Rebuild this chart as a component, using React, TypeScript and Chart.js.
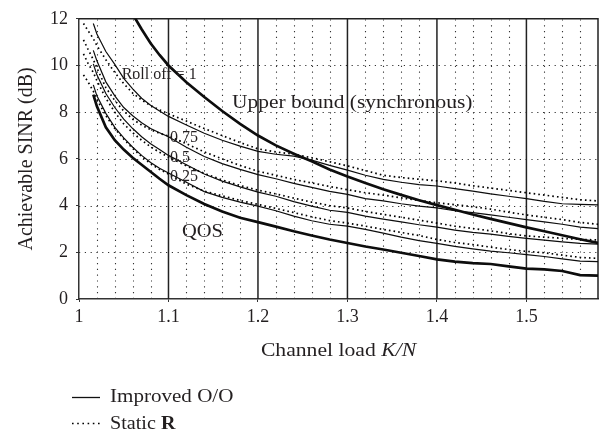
import React, { useEffect, useRef } from "react";
import { Chart, registerables } from "chart.js";

Chart.register(...registerables);

// Channel load K/N sample points (shared by all curves)
const channelLoad = [1.005, 1.01, 1.016, 1.02, 1.03, 1.04, 1.05, 1.06, 1.07, 1.08, 1.09, 1.1, 1.12, 1.14, 1.16, 1.18, 1.2, 1.22, 1.24, 1.26, 1.28, 1.3, 1.32, 1.34, 1.36, 1.38, 1.4, 1.42, 1.44, 1.46, 1.48, 1.5, 1.52, 1.54, 1.56, 1.58];

const upperBound = [null, null, null, null, null, null, null, 12.2, 11.55, 10.95, 10.45, 10.0, 9.28, 8.65, 8.05, 7.5, 7.0, 6.58, 6.22, 5.9, 5.55, 5.25, 4.97, 4.7, 4.46, 4.23, 4.02, 3.82, 3.62, 3.43, 3.25, 3.07, 2.9, 2.73, 2.56, 2.4];
const qos = [null, null, 8.75, 8.25, 7.35, 6.8, 6.4, 6.05, 5.75, 5.45, 5.15, 4.87, 4.45, 4.07, 3.75, 3.48, 3.29, 3.1, 2.9, 2.72, 2.55, 2.4, 2.25, 2.12, 1.98, 1.84, 1.7, 1.6, 1.54, 1.5, 1.4, 1.3, 1.27, 1.2, 1.02, 1.0];

const rollOff100Improved = [null, null, 11.8, 11.35, 10.6, 10.05, 9.45, 9.0, 8.6, 8.3, 8.05, 7.82, 7.45, 7.1, 6.8, 6.55, 6.32, 6.2, 6.12, 5.95, 5.72, 5.52, 5.3, 5.12, 5.0, 4.9, 4.84, 4.73, 4.62, 4.5, 4.4, 4.3, 4.18, 4.08, 4.05, 4.03];
const rollOff100Static = [11.8, 11.5, 11.15, 10.85, 10.25, 9.7, 9.22, 8.82, 8.52, 8.28, 8.1, 7.93, 7.62, 7.3, 7.0, 6.7, 6.43, 6.3, 6.2, 6.05, 5.88, 5.7, 5.5, 5.3, 5.2, 5.13, 5.06, 4.97, 4.85, 4.75, 4.65, 4.55, 4.45, 4.35, 4.25, 4.2];

const rollOff075Improved = [null, null, 10.65, 10.2, 9.3, 8.7, 8.2, 7.85, 7.55, 7.3, 7.12, 6.95, 6.5, 6.1, 5.8, 5.55, 5.33, 5.15, 4.95, 4.78, 4.61, 4.48, 4.3, 4.2, 4.08, 3.98, 3.9, 3.78, 3.7, 3.6, 3.5, 3.4, 3.3, 3.2, 3.08, 3.01];
const rollOff075Static = [11.1, 10.7, 10.25, 9.9, 9.05, 8.5, 8.05, 7.7, 7.45, 7.25, 7.1, 6.98, 6.65, 6.3, 6.0, 5.72, 5.47, 5.3, 5.12, 4.97, 4.82, 4.68, 4.55, 4.45, 4.33, 4.22, 4.12, 4.04, 3.95, 3.85, 3.72, 3.6, 3.5, 3.4, 3.28, 3.2];

const rollOff050Improved = [null, null, 10.07, 9.6, 8.8, 8.2, 7.7, 7.3, 6.95, 6.65, 6.4, 6.15, 5.75, 5.35, 5.05, 4.8, 4.58, 4.4, 4.17, 3.98, 3.8, 3.71, 3.55, 3.42, 3.3, 3.18, 3.08, 2.95, 2.85, 2.78, 2.68, 2.6, 2.52, 2.45, 2.38, 2.35];
const rollOff050Static = [10.5, 10.1, 9.7, 9.35, 8.6, 8.0, 7.5, 7.12, 6.8, 6.52, 6.28, 6.08, 5.7, 5.38, 5.1, 4.86, 4.66, 4.5, 4.32, 4.15, 4.0, 3.9, 3.75, 3.62, 3.5, 3.38, 3.25, 3.12, 3.02, 2.92, 2.8, 2.7, 2.65, 2.6, 2.55, 2.53];

const rollOff025Improved = [null, null, 9.17, 8.7, 7.95, 7.35, 6.9, 6.5, 6.15, 5.85, 5.6, 5.4, 5.0, 4.6, 4.35, 4.15, 3.98, 3.78, 3.55, 3.35, 3.2, 3.12, 2.98, 2.82, 2.65, 2.5, 2.38, 2.25, 2.15, 2.05, 1.98, 1.9, 1.82, 1.72, 1.62, 1.6];
const rollOff025Static = [9.6, 9.3, 8.9, 8.55, 7.85, 7.3, 6.85, 6.45, 6.1, 5.8, 5.55, 5.35, 4.92, 4.62, 4.42, 4.22, 4.05, 3.88, 3.7, 3.52, 3.36, 3.25, 3.12, 2.98, 2.85, 2.72, 2.55, 2.42, 2.33, 2.22, 2.12, 2.04, 1.98, 1.88, 1.78, 1.74];

// Axis / grid tick values
const xMajorTicks = [1.1, 1.2, 1.3, 1.4, 1.5];
const xMinorTicks = [1.02, 1.04, 1.06, 1.08, 1.12, 1.14, 1.16, 1.18, 1.22, 1.24, 1.26, 1.28, 1.32, 1.34, 1.36, 1.38, 1.42, 1.44, 1.46, 1.48, 1.52, 1.54, 1.56];
const yGridTicks = [2, 4, 6, 8, 10];

const SERIF = "'Liberation Serif', 'Times New Roman', serif";
const INK = "#231f20";

function pts(ys: (number | null)[]) {
  return channelLoad.map((x, i) => ({ x, y: ys[i] }));
}

type Part = { text: string; font: string };
function drawParts(ctx: CanvasRenderingContext2D, parts: Part[], x: number, y: number, align: "left" | "center", sx: number) {
  ctx.save();
  ctx.translate(x, y);
  ctx.scale(sx, 1);
  ctx.textBaseline = "alphabetic";
  ctx.textAlign = "left";
  ctx.fillStyle = INK;
  let total = 0;
  for (const p of parts) {
    ctx.font = p.font;
    total += ctx.measureText(p.text).width;
  }
  let cx = align === "center" ? -total / 2 : 0;
  for (const p of parts) {
    ctx.font = p.font;
    ctx.fillText(p.text, cx, 0);
    cx += ctx.measureText(p.text).width;
  }
  ctx.restore();
}

const gridPlugin = {
  id: "customGrid",
  beforeDatasetsDraw(chart: any) {
    const { ctx, chartArea: a, scales } = chart;
    const x = scales.x;
    const y = scales.y;
    ctx.save();
    ctx.lineCap = "butt";
    ctx.strokeStyle = "#333";
    ctx.lineWidth = 1.1;
    ctx.setLineDash([1.2, 4.6]);
    for (const v of xMinorTicks) {
      const px = Math.round(x.getPixelForValue(v)) + 0.5;
      ctx.beginPath();
      ctx.moveTo(px, a.bottom);
      ctx.lineTo(px, a.top);
      ctx.stroke();
    }
    for (const v of yGridTicks) {
      const py = Math.round(y.getPixelForValue(v)) + 0.5;
      ctx.beginPath();
      ctx.moveTo(a.left, py);
      ctx.lineTo(a.right, py);
      ctx.stroke();
    }
    ctx.setLineDash([]);
    ctx.strokeStyle = "#222";
    ctx.lineWidth = 1.5;
    for (const v of xMajorTicks) {
      const px = x.getPixelForValue(v);
      ctx.beginPath();
      ctx.moveTo(px, a.bottom);
      ctx.lineTo(px, a.top);
      ctx.stroke();
    }
    // top and right frame
    ctx.lineWidth = 1.5;
    ctx.strokeStyle = "#222";
    ctx.beginPath();
    ctx.moveTo(a.left, a.top);
    ctx.lineTo(a.right, a.top);
    ctx.lineTo(a.right, a.bottom);
    ctx.stroke();
    ctx.restore();
  },
  afterDatasetsDraw(chart: any) {
    const { ctx, scales } = chart;
    const x = scales.x;
    const y = scales.y;
    const f16 = `16px ${SERIF}`;
    const f18 = `18px ${SERIF}`;
    drawParts(ctx, [{ text: "Upper bound (synchronous)", font: f18 }], x.getPixelForValue(1.171), y.getPixelForValue(8.17), "left", 1.19);
    drawParts(ctx, [{ text: "Roll off = 1", font: f16 }], x.getPixelForValue(1.0477), y.getPixelForValue(9.42), "left", 1.0);
    drawParts(ctx, [{ text: "0.75", font: f16 }], x.getPixelForValue(1.1017), y.getPixelForValue(6.71), "left", 1.0);
    drawParts(ctx, [{ text: "0.5", font: f16 }], x.getPixelForValue(1.1017), y.getPixelForValue(5.875), "left", 1.0);
    drawParts(ctx, [{ text: "0.25", font: f16 }], x.getPixelForValue(1.1017), y.getPixelForValue(5.04), "left", 1.0);
    drawParts(ctx, [{ text: "QOS", font: f18 }], x.getPixelForValue(1.115), y.getPixelForValue(2.67), "left", 1.14);
  },
  afterDraw(chart: any) {
    const { ctx, chartArea: a } = chart;
    const f18 = `18px ${SERIF}`;
    const f19 = `19px ${SERIF}`;
    // x-axis title
    drawParts(
      ctx,
      [
        { text: "Channel load ", font: f19 },
        { text: "K/N", font: `italic 19px ${SERIF}` },
      ],
      (a.left + a.right) / 2,
      356,
      "center",
      1.14
    );
    // y-axis title
    ctx.save();
    ctx.translate(32, (a.top + a.bottom) / 2);
    ctx.rotate(-Math.PI / 2);
    ctx.font = `20px ${SERIF}`;
    ctx.fillStyle = INK;
    ctx.textAlign = "center";
    ctx.textBaseline = "alphabetic";
    ctx.fillText("Achievable SINR (dB)", 0, 0);
    ctx.restore();
    // legend
    ctx.save();
    ctx.strokeStyle = "#111";
    ctx.lineWidth = 1.3;
    ctx.beginPath();
    ctx.moveTo(72, 397.5);
    ctx.lineTo(100, 397.5);
    ctx.stroke();
    ctx.setLineDash([1.6, 3.6]);
    ctx.lineWidth = 1.5;
    ctx.strokeStyle = "#000";
    ctx.beginPath();
    ctx.moveTo(72, 423.5);
    ctx.lineTo(100, 423.5);
    ctx.stroke();
    ctx.restore();
    drawParts(ctx, [{ text: "Improved O/O", font: f18 }], 110, 402, "left", 1.17);
    drawParts(
      ctx,
      [
        { text: "Static ", font: f18 },
        { text: "R", font: `bold 18px ${SERIF}` },
      ],
      110,
      429,
      "left",
      1.12
    );
  },
};

export default function App() {
  const canvasRef = useRef<HTMLCanvasElement | null>(null);

  useEffect(() => {
    const canvas = canvasRef.current;
    if (!canvas) return;
    const solid = (data: (number | null)[], w: number) => ({
      data: pts(data),
      borderColor: "#0d0d0d",
      borderWidth: w,
      pointRadius: 0,
      fill: false,
      tension: 0,
      spanGaps: false,
    });
    const dotted = (data: (number | null)[]) => ({
      data: pts(data),
      borderColor: "#000",
      borderWidth: 1.7,
      borderDash: [1.6, 3.1],
      borderCapStyle: "butt",
      pointRadius: 0,
      fill: false,
      tension: 0,
      spanGaps: false,
    });

    const chart = new Chart(canvas, {
      type: "line",
      data: {
        datasets: [
          { label: "Upper bound (synchronous)", ...solid(upperBound, 2.7) },
          { label: "QOS", ...solid(qos, 2.7) },
          { label: "Roll off = 1 (Improved O/O)", ...solid(rollOff100Improved, 1.2) },
          { label: "Roll off = 1 (Static R)", ...dotted(rollOff100Static) },
          { label: "Roll off = 0.75 (Improved O/O)", ...solid(rollOff075Improved, 1.2) },
          { label: "Roll off = 0.75 (Static R)", ...dotted(rollOff075Static) },
          { label: "Roll off = 0.5 (Improved O/O)", ...solid(rollOff050Improved, 1.2) },
          { label: "Roll off = 0.5 (Static R)", ...dotted(rollOff050Static) },
          { label: "Roll off = 0.25 (Improved O/O)", ...solid(rollOff025Improved, 1.2) },
          { label: "Roll off = 0.25 (Static R)", ...dotted(rollOff025Static) },
        ] as any,
      },
      options: {
        animation: false,
        responsive: false,
        maintainAspectRatio: false,
        layout: { padding: { left: 0, right: 9, top: 11, bottom: 0 } },
        plugins: {
          legend: { display: false },
          tooltip: { enabled: false },
        },
        elements: { point: { radius: 0 } },
        scales: {
          x: {
            type: "linear",
            min: 1,
            max: 1.58,
            ticks: {
              stepSize: 0.1,
              includeBounds: false,
              autoSkip: false,
              maxRotation: 0,
              padding: 4,
              color: INK,
              font: { family: SERIF, size: 18 },
              callback: (v: any) => String(Number(Number(v).toFixed(2))),
            },
            grid: { display: true, drawOnChartArea: false, drawTicks: true, tickLength: 3, color: "#333", lineWidth: 1 },
            border: { display: true, color: "#333", width: 1.5 },
            afterFit: (s: any) => {
              s.height = 136;
            },
          },
          y: {
            type: "linear",
            min: 0,
            max: 12,
            ticks: {
              stepSize: 2,
              padding: 8,
              color: INK,
              font: { family: SERIF, size: 18 },
            },
            grid: { display: true, drawOnChartArea: false, drawTicks: true, tickLength: 3, color: "#333", lineWidth: 1 },
            border: { display: true, color: "#333", width: 1.5 },
            afterFit: (s: any) => {
              s.width = 79;
            },
          },
        },
      } as any,
      plugins: [gridPlugin],
    });
    return () => chart.destroy();
  }, []);

  return (
    <div style={{ position: "absolute", left: 0, top: 0, width: 607, height: 435, background: "#fff" }}>
      <canvas ref={canvasRef} width={607} height={435} style={{ width: 607, height: 435, display: "block" }} />
    </div>
  );
}
